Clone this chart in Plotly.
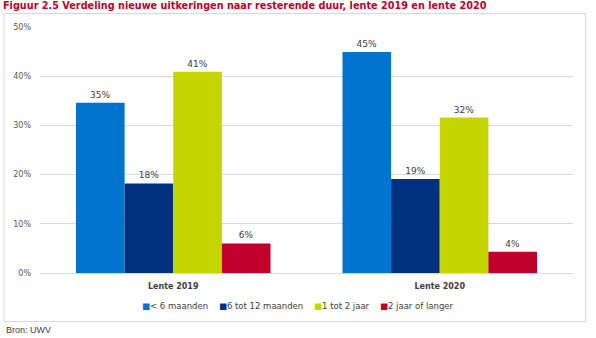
import plotly.graph_objects as go

categories = ["Lente 2019", "Lente 2020"]
series_names = ["< 6 maanden", "6 tot 12 maanden", "1 tot 2 jaar", "2 jaar of langer"]
series_values = [
    [34.6, 44.9],
    [18.2, 19.1],
    [40.9, 31.6],
    [6.0, 4.3],
]
series_labels = [
    ["35%", "45%"],
    ["18%", "19%"],
    ["41%", "32%"],
    ["6%", "4%"],
]
colors = ["#0074cf", "#00317f", "#c5d500", "#c1002b"]
tick_vals = [0, 10, 20, 30, 40, 50]
tick_text = ["0%", "10%", "20%", "30%", "40%", "50%"]

fig = go.Figure()
for name, vals, labs, col in zip(series_names, series_values, series_labels, colors):
    fig.add_trace(go.Bar(
        x=categories, y=vals, name=name, marker=dict(color=col, line=dict(width=0)),
        text=labs, textposition="outside", cliponaxis=False, showlegend=False,
        textfont=dict(family="DejaVu Sans", size=9, color="#404040"),
    ))

fig.update_layout(
    width=596, height=338,
    margin=dict(l=40, r=23, t=27, b=65),
    paper_bgcolor="white", plot_bgcolor="white",
    barmode="group", bargap=0.27, bargroupgap=0,
    title=dict(text="<b>Figuur 2.5 Verdeling nieuwe uitkeringen naar resterende duur, lente 2019 en lente 2020</b>",
               x=0.005, xanchor="left", y=0.982, yanchor="middle",
               font=dict(family="DejaVu Sans", size=9.7, color="#c1002b")),
    yaxis=dict(range=[0, 50], tickvals=tick_vals, ticktext=tick_text,
               showgrid=True, gridcolor="#d9d9d9", gridwidth=1, zeroline=False,
               showline=False, ticks="", ticklabelstandoff=8,
               tickfont=dict(family="DejaVu Sans", size=8, color="#595959")),
    xaxis=dict(showline=True, linecolor="#d9d9d9", linewidth=1, ticks="",
               ticklabelstandoff=5,
               tickfont=dict(family="DejaVu Sans", size=8, color="#404040")),
)
fig.update_xaxes(ticktext=["<b>Lente 2019</b>", "<b>Lente 2020</b>"], tickvals=categories)

# legend as rich-text annotation built from series names/colours
parts = []
for name, col in zip(series_names, colors):
    safe = name.replace("<", "&lt;")
    parts.append(f'<span style="color:{col}">■</span>{safe}')
legend_text = "\u00a0\u00a0\u00a0\u00a0".join(parts)
fig.add_annotation(text=legend_text, xref="paper", yref="paper", x=(298 - 40) / 533, xanchor="center",
                   y=-(306 - 273) / 246, yanchor="middle", showarrow=False,
                   font=dict(family="DejaVu Sans", size=8.5, color="#404040"))

fig.add_shape(type="rect", xref="paper", yref="paper",
              x0=-36/533, x1=(585.5-40)/533, y0=-(321.5-273)/246, y1=(273-13.5)/246,
              line=dict(color="#d9d9d9", width=1), fillcolor="rgba(0,0,0,0)", layer="below")
fig.add_annotation(text="Bron: UWV", xref="paper", yref="paper", x=-36/533, xanchor="left",
                   y=-(330-273)/246, yanchor="middle", showarrow=False,
                   font=dict(family="Liberation Sans", size=9, color="#404040"))

fig.write_html("out.html")
